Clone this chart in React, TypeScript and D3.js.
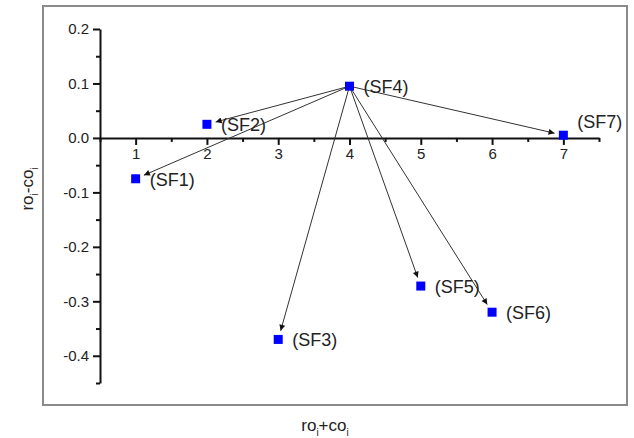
import React, { useEffect, useRef } from 'react';
import * as d3 from 'd3';

const labels = ['SF1', 'SF2', 'SF3', 'SF4', 'SF5', 'SF6', 'SF7'];
const xValues = [1, 2, 3, 4, 5, 6, 7];
const yValues = [-0.075, 0.025, -0.37, 0.095, -0.272, -0.32, 0.005];
const xTicks = [1, 2, 3, 4, 5, 6, 7];
const xMinor = [0.5, 1.5, 2.5, 3.5, 4.5, 5.5, 6.5, 7.5];
const yTicks = [-0.4, -0.3, -0.2, -0.1, 0.0, 0.1, 0.2];
const yMinor = [-0.45, -0.35, -0.25, -0.15, -0.05, 0.05, 0.15];
const hub = 'SF4';

const W = 634;
const H = 438;
const FONT = '"Liberation Sans", Arial, sans-serif';

export default function App() {
  const ref = useRef<SVGSVGElement>(null);

  useEffect(() => {
    const svg = d3.select(ref.current);
    svg.selectAll('*').remove();

    const x = d3.scaleLinear().domain([0.5, 7.5]).range([100, 599]);
    const y = d3.scaleLinear().domain([-0.45, 0.2]).range([383, 29]);

    const defs = svg.append('defs');
    defs.append('marker')
      .attr('id', 'arr')
      .attr('viewBox', '0 0 10 10')
      .attr('refX', 10).attr('refY', 5)
      .attr('markerWidth', 9).attr('markerHeight', 6)
      .attr('markerUnits', 'userSpaceOnUse')
      .attr('orient', 'auto')
      .append('path').attr('d', 'M0,0 L10,5 L0,10 Z').attr('fill', '#111');

    // frame
    svg.append('rect')
      .attr('x', 43).attr('y', 6).attr('width', 584).attr('height', 399)
      .attr('fill', 'none').attr('stroke', '#8a8a8a').attr('stroke-width', 2);

    // y axis
    const gy = svg.append('g').attr('transform', `translate(${x(0.5)},0)`);
    gy.call(d3.axisLeft(y).tickValues(yTicks).tickSize(7).tickSizeOuter(0)
      .tickFormat((d) => (+d).toFixed(1)));
    gy.append('g').call(d3.axisLeft(y).tickValues(yMinor).tickSize(4).tickSizeOuter(0).tickFormat(() => ''))
      .select('.domain').remove();
    gy.selectAll('path, line').attr('stroke', '#111').attr('stroke-width', 2);
    gy.selectAll('text').attr('font-family', FONT).attr('font-size', 15).attr('fill', '#222').attr('x', -11);

    // x axis on y = 0
    const gx = svg.append('g').attr('transform', `translate(0,${y(0)})`);
    gx.call(d3.axisBottom(x).tickValues(xTicks).tickSize(7).tickSizeOuter(0).tickFormat(d3.format('d')));
    gx.append('g').call(d3.axisBottom(x).tickValues(xMinor).tickSize(4).tickSizeOuter(0).tickFormat(() => ''))
      .select('.domain').remove();
    gx.selectAll('path, line').attr('stroke', '#111').attr('stroke-width', 2);
    gx.selectAll('text').attr('font-family', FONT).attr('font-size', 15).attr('fill', '#222').attr('y', 10);

    const pts = labels.map((l, i) => ({ l, px: x(xValues[i]), py: y(yValues[i]) }));
    const h = pts.find((p) => p.l === hub)!;

    // arrows from hub
    svg.append('g').selectAll('line')
      .data(pts.filter((p) => p.l !== hub))
      .join('line')
      .each(function (p) {
        const dx = p.px - h.px, dy = p.py - h.py;
        const len = Math.hypot(dx, dy);
        const k = (len - 9) / len;
        d3.select(this)
          .attr('x1', h.px).attr('y1', h.py)
          .attr('x2', h.px + dx * k).attr('y2', h.py + dy * k);
      })
      .attr('stroke', '#333').attr('stroke-width', 1)
      .attr('marker-end', 'url(#arr)');

    // points
    svg.append('g').selectAll('rect')
      .data(pts).join('rect')
      .attr('x', (p) => p.px - 4.5).attr('y', (p) => p.py - 4.5)
      .attr('width', 9).attr('height', 9).attr('fill', '#0000ff');

    // labels
    svg.append('g').selectAll('text')
      .data(pts).join('text')
      .attr('x', (p) => p.px + 14)
      .attr('y', (p) => (p.l === 'SF7' ? p.py - 7 : p.py + 7))
      .attr('font-family', FONT).attr('font-size', 18).attr('fill', '#222')
      .text((p) => `(${p.l})`);

    // axis titles
    const xt = svg.append('text').attr('x', 325).attr('y', 431)
      .attr('text-anchor', 'middle').attr('font-family', FONT).attr('font-size', 17).attr('fill', '#222');
    xt.append('tspan').text('ro');
    xt.append('tspan').attr('font-size', 10).attr('dy', 5).text('i');
    xt.append('tspan').attr('dy', -5).text('+co');
    xt.append('tspan').attr('font-size', 10).attr('dy', 5).text('i');

    const yt = svg.append('text').attr('transform', 'translate(33,189) rotate(-90)')
      .attr('text-anchor', 'middle').attr('font-family', FONT).attr('font-size', 17).attr('fill', '#222');
    yt.append('tspan').text('ro');
    yt.append('tspan').attr('font-size', 10).attr('dy', 5).text('i');
    yt.append('tspan').attr('dy', -5).text('-co');
    yt.append('tspan').attr('font-size', 10).attr('dy', 5).text('i');
  }, []);

  return (
    <svg ref={ref} width={W} height={H}
      style={{ position: 'absolute', left: 0, top: 0, background: '#fff' }} />
  );
}
